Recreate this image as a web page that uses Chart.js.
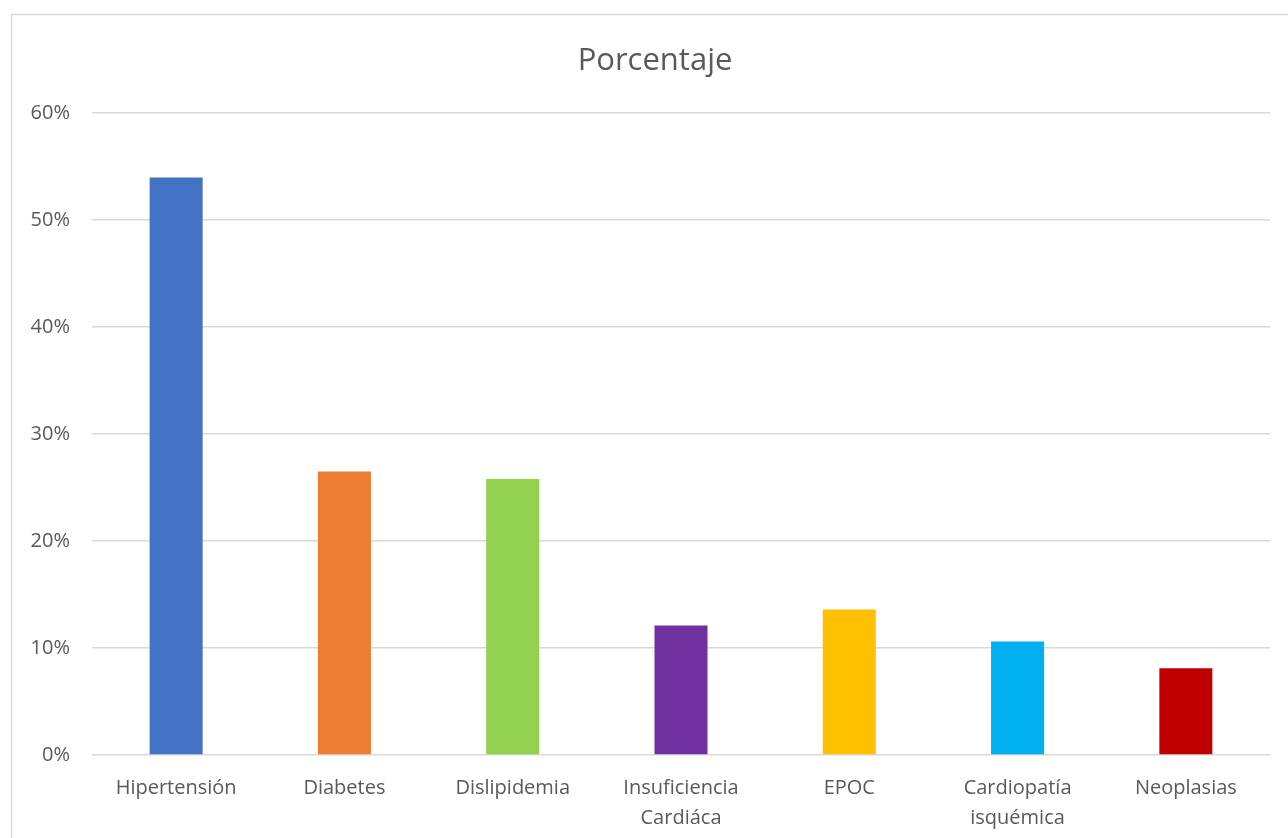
<!DOCTYPE html>
<html>
<head>
<meta charset="utf-8">
<style>
  html, body { margin: 0; padding: 0; background: #ffffff; }
  #wrap { position: relative; width: 1288px; height: 838px; }
</style>
<script src="https://cdn.jsdelivr.net/npm/chart.js@4"></script>
</head>
<body>
<div id="wrap"><canvas id="chart" width="1288" height="838"></canvas></div>
<script>
// Categorías (etiquetas en varias líneas donde hace falta)
const categories = [
  'Hipertensión',
  'Diabetes',
  'Dislipidemia',
  ['Insuficiencia', 'Cardiáca'],
  'EPOC',
  ['Cardiopatía', 'isquémica'],
  'Neoplasias'
];

// Porcentaje de pacientes por comorbilidad
const porcentaje = [54.0, 26.5, 25.8, 12.1, 13.6, 10.6, 8.1];

const barColors = ['#4472C4', '#ED7D31', '#92D050', '#7030A0', '#FFC000', '#00B0F0', '#C00000'];

const yTicks = [0, 10, 20, 30, 40, 50, 60];

const FONT = '"Open Sans", "Liberation Sans", sans-serif';
const TEXT = '#595959';

// Marco exterior del gráfico y título centrado en el marco
const frame = {
  id: 'frame',
  afterLayout(chart) {
    if (chart.titleBlock) chart.titleBlock.left = 40;
  },
  beforeDraw(chart) {
    const ctx = chart.ctx;
    ctx.save();
    ctx.fillStyle = '#ffffff';
    ctx.fillRect(0, 0, chart.width, chart.height);
    ctx.strokeStyle = '#d9d9d9';
    ctx.lineWidth = 1.5;
    ctx.strokeRect(11.5, 14.5, chart.width + 10, chart.height + 10);
    ctx.restore();
  }
};

new Chart(document.getElementById('chart'), {
  type: 'bar',
  data: {
    labels: categories,
    datasets: [{
      label: 'Porcentaje',
      data: porcentaje,
      backgroundColor: barColors,
      borderWidth: 0,
      categoryPercentage: 1,
      barPercentage: 0.315
    }]
  },
  options: {
    responsive: false,
    animation: false,
    devicePixelRatio: 1,
    layout: { padding: { left: 0, right: 18, top: 0, bottom: 0 } },
    plugins: {
      legend: { display: false },
      tooltip: { enabled: false },
      title: {
        display: true,
        text: 'Porcentaje',
        color: TEXT,
        font: { family: FONT, size: 31, weight: 'normal', lineHeight: 1.2 },
        padding: { top: 43, bottom: 33 }
      }
    },
    scales: {
      x: {
        grid: { display: false },
        border: { display: false },
        ticks: {
          color: TEXT,
          font: { family: FONT, size: 20, lineHeight: 1.5 },
          padding: 10,
          maxRotation: 0,
          autoSkip: false
        },
        afterFit(scale) { scale.height = 838 - 755; }
      },
      y: {
        min: 0,
        max: 60,
        afterBuildTicks(scale) { scale.ticks = yTicks.map(v => ({ value: v })); },
        afterFit(scale) { scale.width = 92; },
        grid: { color: '#d9d9d9', lineWidth: 1.5, drawTicks: false },
        border: { display: false },
        ticks: {
          color: TEXT,
          font: { family: FONT, size: 20 },
          padding: 22,
          callback: v => v + '%'
        }
      }
    }
  },
  plugins: [frame]
});
</script>
</body>
</html>
